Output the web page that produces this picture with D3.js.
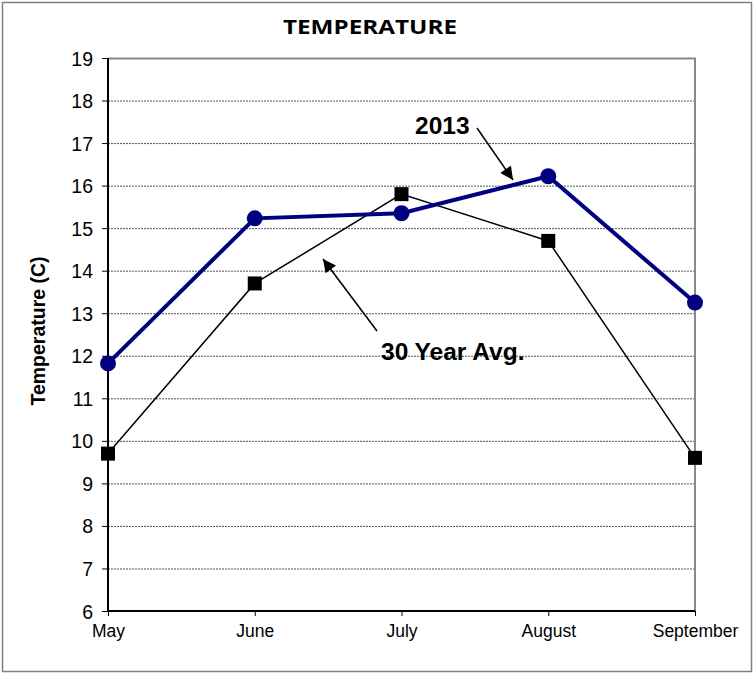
<!DOCTYPE html>
<html>
<head>
<meta charset="utf-8">
<script src="https://cdnjs.cloudflare.com/ajax/libs/d3/7.8.5/d3.min.js"></script>
<style>
  body { margin: 0; background: #fff; }
  svg { display: block; }
</style>
</head>
<body>
<svg id="chart" width="754" height="673"></svg>
<script>
const months = ['May', 'June', 'July', 'August', 'September'];
const temp2013 = [11.82, 15.23, 15.35, 16.22, 13.25];
const avg30 = [9.7, 13.7, 15.8, 14.7, 9.6];
const yTicks = [6, 7, 8, 9, 10, 11, 12, 13, 14, 15, 16, 17, 18, 19];

const FONT = 'Arial, "Liberation Sans", sans-serif';
const svg = d3.select('#chart');

// outer frame
svg.append('rect')
  .attr('x', 2.5).attr('y', 2.5)
  .attr('width', 749).attr('height', 669)
  .attr('fill', '#fff').attr('stroke', '#808080').attr('stroke-width', 1.5);

let margins = { top: 58, right: 59, bottom: 62, left: 108 },
  width = 754 - margins.left - margins.right,
  height = 673 - margins.top - margins.bottom,
  x = d3.scalePoint().domain(months).range([0, width]),
  y = d3.scaleLinear().domain([6, 19]).range([height, 0]);

const g = svg.append('g')
  .attr('transform', 'translate(' + margins.left + ',' + margins.top + ')');

// gridlines
g.append('g')
  .selectAll('line')
  .data(yTicks.filter(d => d > 6 && d < 19))
  .enter()
  .append('line')
  .attr('x1', 0).attr('x2', width)
  .attr('y1', d => y(d) + 0.5).attr('y2', d => y(d) + 0.5)
  .attr('stroke', '#555').attr('stroke-width', 1)
  .attr('stroke-dasharray', '2,1');

// top and right frame of plot
g.append('path')
  .attr('d', `M0,0.5H${width}V${height}`)
  .attr('fill', 'none').attr('stroke', '#888').attr('stroke-width', 2);

// axes
const yAxis = d3.axisLeft(y).tickValues(yTicks).tickSize(6).tickPadding(9).tickFormat(d3.format('d'));
const yg = g.append('g').attr('class', 'y axis').call(yAxis);
yg.select('.domain').remove();
yg.selectAll('line').attr('stroke', '#000');
yg.selectAll('text')
  .attr('fill', '#000')
  .attr('font-family', FONT)
  .attr('font-size', 19.5)
  .attr('dy', '0.36em');
g.append('line').attr('x1', 0).attr('x2', 0).attr('y1', 0).attr('y2', height + 1)
  .attr('stroke', '#000').attr('stroke-width', 2);

const xAxis = d3.axisBottom(x).tickSize(5).tickPadding(9);
const xg = g.append('g').attr('class', 'x axis')
  .attr('transform', 'translate(0,' + height + ')').call(xAxis);
xg.select('.domain').remove();
xg.selectAll('line').attr('stroke', '#000');
xg.selectAll('text')
  .attr('fill', '#000')
  .attr('font-family', FONT)
  .attr('font-size', 17.5);
g.append('line').attr('x1', 0).attr('x2', width).attr('y1', height).attr('y2', height)
  .attr('stroke', '#000').attr('stroke-width', 2);

const line = d3.line().x((d, i) => x(months[i])).y(d => y(d));

// 30 year average
g.append('path').datum(avg30).attr('d', line)
  .attr('fill', 'none').attr('stroke', '#000').attr('stroke-width', 1.5);
g.selectAll('.sq').data(avg30).enter().append('rect')
  .attr('class', 'sq')
  .attr('x', (d, i) => x(months[i]) - 7)
  .attr('y', d => y(d) - 7)
  .attr('width', 14).attr('height', 14)
  .attr('fill', '#000');

// 2013
g.append('path').datum(temp2013).attr('d', line)
  .attr('fill', 'none').attr('stroke', '#000080').attr('stroke-width', 4);
g.selectAll('.dot').data(temp2013).enter().append('circle')
  .attr('class', 'dot')
  .attr('cx', (d, i) => x(months[i]))
  .attr('cy', d => y(d))
  .attr('r', 8)
  .attr('fill', '#000080');

// title
svg.append('text')
  .attr('x', 370).attr('y', 34)
  .attr('text-anchor', 'middle')
  .attr('font-family', '"Open Sans", sans-serif')
  .attr('font-weight', 'bold')
  .attr('font-size', 20)
  .attr('textLength', 174)
  .attr('lengthAdjust', 'spacingAndGlyphs')
  .text('TEMPERATURE');

// y label
svg.append('text')
  .attr('transform', 'translate(45,331) rotate(-90)')
  .attr('text-anchor', 'middle')
  .attr('font-family', FONT)
  .attr('font-weight', 'bold')
  .attr('font-size', 19.5)
  .text('Temperature (C)');

// annotations
svg.append('defs').append('marker')
  .attr('id', 'arrow')
  .attr('viewBox', '0 0 10 10')
  .attr('refX', 10).attr('refY', 5)
  .attr('markerWidth', 16).attr('markerHeight', 13)
  .attr('markerUnits', 'userSpaceOnUse')
  .attr('orient', 'auto')
  .append('path').attr('d', 'M0,0L10,5L0,10z').attr('fill', '#000');

svg.append('text')
  .attr('x', 415).attr('y', 134)
  .attr('font-family', FONT)
  .attr('font-weight', 'bold').attr('font-size', 24.5)
  .text('2013');
svg.append('line')
  .attr('x1', 477).attr('y1', 128).attr('x2', 513).attr('y2', 180)
  .attr('stroke', '#000').attr('stroke-width', 1.5)
  .attr('marker-end', 'url(#arrow)');

svg.append('text')
  .attr('x', 381).attr('y', 360)
  .attr('font-family', FONT)
  .attr('font-weight', 'bold').attr('font-size', 24.5)
  .text('30 Year Avg.');
svg.append('line')
  .attr('x1', 377).attr('y1', 331).attr('x2', 323).attr('y2', 259)
  .attr('stroke', '#000').attr('stroke-width', 1.5)
  .attr('marker-end', 'url(#arrow)');
</script>
</body>
</html>
